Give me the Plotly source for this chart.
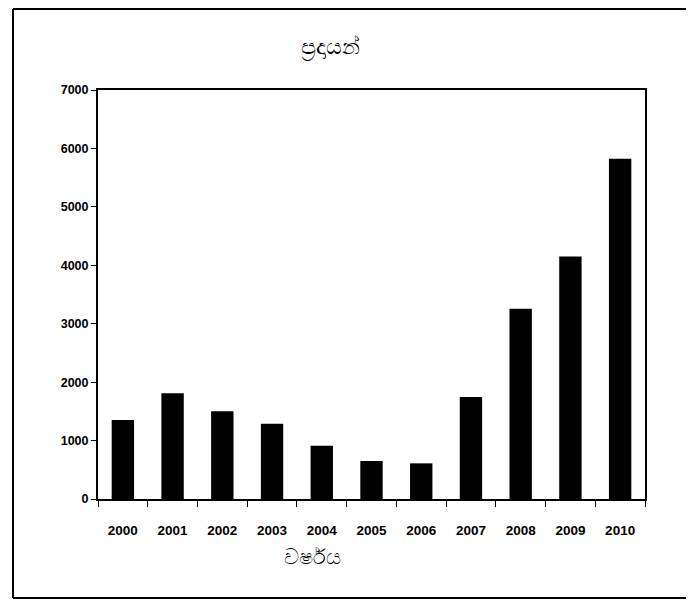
import plotly.graph_objects as go

years = ["2000", "2001", "2002", "2003", "2004", "2005", "2006", "2007", "2008", "2009", "2010"]
values = [1350, 1810, 1500, 1290, 910, 650, 610, 1745, 3255, 4150, 5825]
y_ticks = [0, 1000, 2000, 3000, 4000, 5000, 6000, 7000]

title_text = "ප්‍රදායන්"
x_title = "වර්ෂය"

OFF = 8  # page body margin
W, H = 694 - OFF, 602 - OFF
L, R, T, B = 98 - OFF, 645 - OFF, 90 - OFF, 499 - OFF
pw, ph = R - L, B - T

tick_font = dict(family="Liberation Sans, Arial, sans-serif", size=13.5, color="black")

fig = go.Figure()
fig.add_trace(go.Bar(x=years, y=values, marker=dict(color="black", line=dict(width=0)), width=0.45))

def px(x):
    return (x - OFF - L) / pw

def py(y):
    return (B - (y - OFF)) / ph

fig.update_layout(
    width=W, height=H,
    margin=dict(l=L, r=W - R, t=T, b=H - B),
    paper_bgcolor="white", plot_bgcolor="white",
    showlegend=False,
    font=dict(family="Liberation Sans, Arial, sans-serif", color="black", size=12),
    title=dict(text=title_text, x=px(330), xref="paper", xanchor="center",
               y=1 - (46 - OFF) / H, yanchor="middle", font=dict(size=22, color="black")),
    xaxis=dict(
        type="category", showgrid=False, showline=True, linecolor="black", linewidth=1.5,
        mirror=True, ticks="outside", tickson="boundaries", ticklen=6, tickcolor="black",
        tickfont=tick_font, tickvals=years, ticktext=["<b>%s</b>" % y for y in years],
        ticklabelstandoff=18,
    ),
    yaxis=dict(
        range=[0, 7000], tickvals=y_ticks, ticktext=["<b>%d</b>" % v for v in y_ticks],
        showgrid=False, zeroline=False,
        showline=True, linecolor="black", linewidth=2, mirror=True,
        ticks="outside", ticklen=5, tickcolor="black",
        tickfont=dict(family="Liberation Sans, Arial, sans-serif", size=12.5, color="black"),
    ),
    annotations=[
        dict(text=x_title, xref="paper", yref="paper", x=px(312), y=py(556),
             xanchor="center", yanchor="middle", showarrow=False,
             font=dict(size=21, color="black")),
    ],
    shapes=[
        dict(type="line", xref="paper", yref="paper", x0=px(13), x1=px(13), y0=py(9), y1=py(598),
             line=dict(color="black", width=2)),
        dict(type="line", xref="paper", yref="paper", x0=px(13), x1=px(700), y0=py(9), y1=py(9),
             line=dict(color="black", width=2)),
        dict(type="line", xref="paper", yref="paper", x0=px(13), x1=px(700), y0=py(598), y1=py(598),
             line=dict(color="black", width=2)),
    ],
)

fig.write_html("out.html")
